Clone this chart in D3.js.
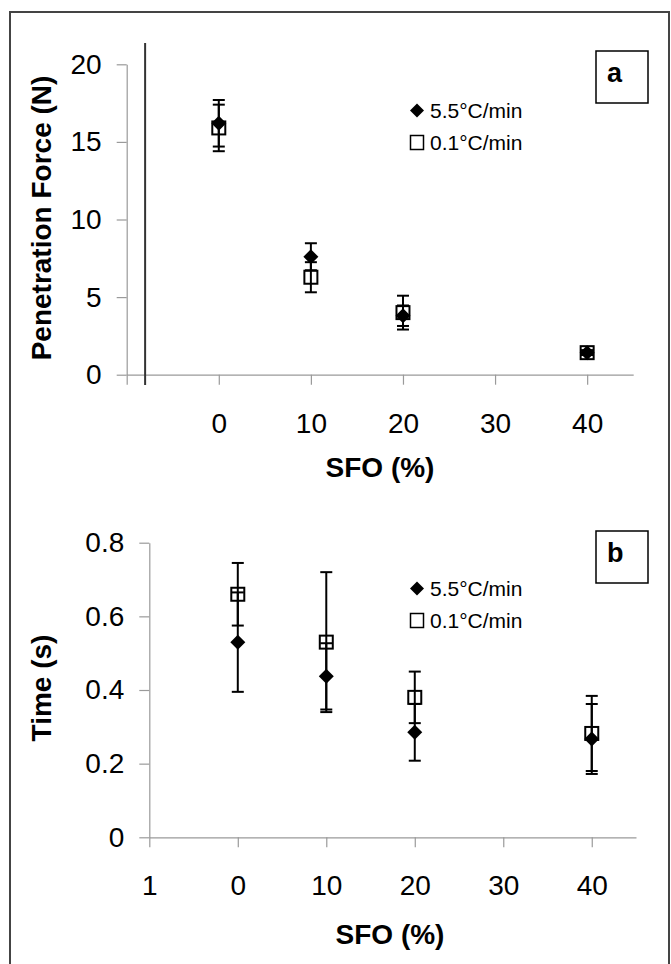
<!DOCTYPE html>
<html><head><meta charset="utf-8">
<script src="https://cdn.jsdelivr.net/npm/d3@7"></script>
<style>
html,body{margin:0;padding:0;background:#fff;}
svg{display:block;}
text{font-family:"Liberation Sans",Arial,Helvetica,sans-serif;fill:#000;}
</style></head>
<body>
<svg id="c" width="671" height="964"></svg>
<script>
// ---- data ----
const tickLabelsA = ["", "0", "10", "20", "30", "40"];
const tickLabelsB = ["1", "0", "10", "20", "30", "40"];
const positions = [1, 2, 3, 4, 5];           // category slots for SFO 0,10,20,30,40
const sfo = ["0", "10", "20", "30", "40"];
const seriesNames = ["5.5°C/min", "0.1°C/min"];

const forceFast = [16.2, 7.6, 3.8, null, 1.42];
const forceFastErr = [1.5, 0.87, 0.66, null, 0.15];
const forceSlow = [15.9, 6.28, 4.0, null, 1.42];
const forceSlowErr = [1.5, 0.97, 1.09, null, 0.15];

const timeFast = [0.53, 0.437, 0.285, null, 0.267];
const timeFastErr = [0.135, 0.09, 0.077, null, 0.095];
const timeSlow = [0.66, 0.53, 0.38, null, 0.282];
const timeSlowErr = [0.085, 0.19, 0.07, null, 0.102];

const forceTicks = [0, 5, 10, 15, 20];
const timeTicks = [0, 0.2, 0.4, 0.6, 0.8];

// ---- drawing ----
const svg = d3.select("#c");
svg.append("rect").attr("x", 10).attr("y", 12).attr("width", 659).attr("height", 980)
  .attr("fill", "none").attr("stroke", "#444").attr("stroke-width", 2);

const diamondPath = "M0,-7.5L7.5,0L0,7.5L-7.5,0Z";

function panel(o) {
  const g = svg.append("g");
  const x = d3.scaleLinear().domain([0, 5.5]).range(o.xr);
  const y = d3.scaleLinear().domain(o.yd).range(o.yr);

  const ya = g.append("g").attr("transform", `translate(${o.xr[0]},0)`)
    .call(d3.axisLeft(y).tickValues(o.yticks).tickSize(10).tickSizeOuter(0).tickPadding(15)
      .tickFormat(o.yfmt));
  const xa = g.append("g").attr("transform", `translate(0,${o.yr[0]})`)
    .call(d3.axisBottom(x).tickValues([0, 1, 2, 3, 4, 5]).tickSize(10).tickSizeOuter(0).tickPadding(28)
      .tickFormat((d, i) => o.xlabels[i]));
  [ya, xa].forEach(a => {
    a.selectAll(".domain").attr("stroke", "#9a9a9a").attr("stroke-width", 1.2);
    a.selectAll(".tick line").attr("stroke", "#9a9a9a").attr("stroke-width", 1.2);
    a.selectAll(".tick text").attr("font-size", 28).attr("fill", "#000")
      .style("font-family", '"Liberation Sans",Arial,sans-serif');
  });

  if (o.extraLine) {
    g.append("line").attr("x1", x(0.2)).attr("x2", x(0.2))
      .attr("y1", o.extraLine[0]).attr("y2", o.extraLine[1])
      .attr("stroke", "#333").attr("stroke-width", 2);
  }

  function errBars(vals, errs) {
    const gg = g.append("g").attr("stroke", "#000").attr("stroke-width", 2);
    vals.forEach((v, i) => {
      if (v == null) return;
      const cx = x(positions[i]);
      const hi = y(v + errs[i]), lo = y(v - errs[i]);
      gg.append("line").attr("x1", cx).attr("x2", cx).attr("y1", hi).attr("y2", lo);
      gg.append("line").attr("x1", cx - 6).attr("x2", cx + 6).attr("y1", hi).attr("y2", hi);
      gg.append("line").attr("x1", cx - 6).attr("x2", cx + 6).attr("y1", lo).attr("y2", lo);
    });
  }
  // slow series (squares)
  o.slow.forEach((v, i) => {
    if (v == null) return;
    g.append("rect").attr("x", x(positions[i]) - 6.5).attr("y", y(v) - 6.5)
      .attr("width", 13).attr("height", 13).attr("fill", "#fff").attr("stroke", "#000").attr("stroke-width", 2);
  });
  errBars(o.slow, o.slowErr);
  // fast series (diamonds)
  o.fast.forEach((v, i) => {
    if (v == null) return;
    g.append("path").attr("d", diamondPath)
      .attr("transform", `translate(${x(positions[i])},${y(v)})`).attr("fill", "#000");
  });
  errBars(o.fast, o.fastErr);

  // axis titles
  g.append("text").attr("transform", `translate(${o.ytx},${o.ytY}) rotate(-90)`)
    .attr("text-anchor", "middle").attr("font-size", 28).attr("font-weight", "bold").text(o.ytitle);
  g.append("text").attr("x", o.xtX).attr("y", o.xtY)
    .attr("text-anchor", "middle").attr("font-size", 28).attr("font-weight", "bold").text("SFO (%)");

  // legend
  const lg = g.append("g");
  lg.append("path").attr("d", "M0,-7L7,0L0,7L-7,0Z")
    .attr("transform", `translate(417,${o.legY[0]})`).attr("fill", "#000");
  lg.append("text").attr("x", 430).attr("y", o.legY[0] + 7).attr("font-size", 21).text(seriesNames[0]);
  lg.append("rect").attr("x", 410.5).attr("y", o.legY[1] - 7).attr("width", 13).attr("height", 14)
    .attr("fill", "#fff").attr("stroke", "#000").attr("stroke-width", 1.5);
  lg.append("text").attr("x", 430).attr("y", o.legY[1] + 7).attr("font-size", 21).text(seriesNames[1]);

  // panel letter box
  g.append("rect").attr("x", 596).attr("y", o.boxY).attr("width", 52).attr("height", 52)
    .attr("fill", "#fff").attr("stroke", "#000").attr("stroke-width", 1.5);
  g.append("text").attr("x", 607).attr("y", o.boxY + 31).attr("font-size", 27).attr("font-weight", "bold").text(o.letter);
}

panel({
  xr: [126.7, 633.2], yd: [0, 20], yr: [374.7, 64.3], yticks: forceTicks, yfmt: d3.format("d"),
  xlabels: tickLabelsA, fast: forceFast, fastErr: forceFastErr, slow: forceSlow, slowErr: forceSlowErr,
  extraLine: [43, 385], ytitle: "Penetration Force (N)", ytx: 51, ytY: 218, xtX: 380, xtY: 477,
  legY: [110.5, 142.5], boxY: 51, letter: "a"
});
panel({
  xr: [149.3, 636], yd: [0, 0.8], yr: [837.3, 542.7], yticks: timeTicks, yfmt: d => d === 0 ? "0" : d3.format(".1f")(d),
  xlabels: tickLabelsB, fast: timeFast, fastErr: timeFastErr, slow: timeSlow, slowErr: timeSlowErr,
  extraLine: null, ytitle: "Time (s)", ytx: 51, ytY: 688, xtX: 390, xtY: 944,
  legY: [588.5, 620.5], boxY: 531, letter: "b"
});
</script>
</body></html>
